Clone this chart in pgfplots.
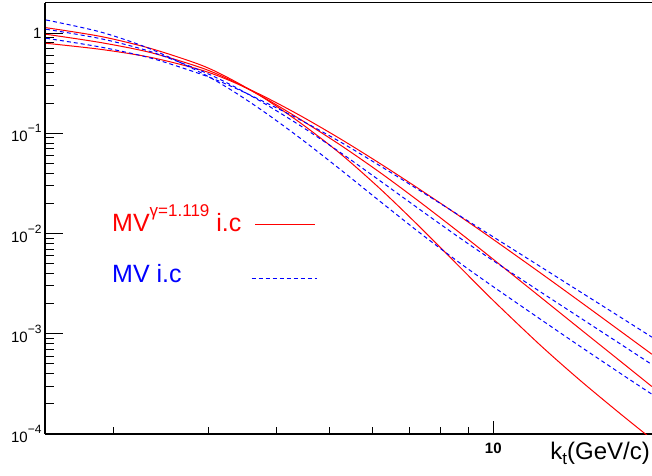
\documentclass[border=0pt]{standalone}
\usepackage{fontspec}
\setmainfont{Liberation Sans}
\usepackage{pgfplots}
\usepackage{pgfplotstable}
\pgfplotsset{compat=1.18}

\pgfplotstableread{
k      R1        R2        R3        B1        B2        B3
1.507  1.129     0.9705    0.7894    1.348     1.089     0.8855
1.900  0.923     0.8021    0.6863    1.021     0.877     0.7233
2.347  0.700     0.6372    0.5709    0.6910    0.6508    0.5619
2.900  0.4794    0.4517    0.4284    0.4027    0.4206    0.3890
3.292  0.3468    0.3382    0.3320    0.2719    0.3042    0.2953
3.784  0.2252    0.2278    0.2342    0.1648    0.2002    0.2069
4.425  0.1263    0.1368    0.1493    0.08863   0.1184    0.1353
5.241  0.06223   0.07599   0.08760   0.04329   0.06397   0.08161
6.204  0.02773   0.04031   0.04957   0.02076   0.03332   0.04703
7.346  0.01148   0.02043   0.02729   0.01005   0.01719   0.02660
8.698  0.004578  0.01007   0.01474   0.005042  0.00896   0.01491
10.00  0.002146  0.005528  0.00873   0.002946  0.005354  0.00925
12.20  0.0007704 0.002331  0.004055  0.001400  0.002627  0.004685
14.44  0.0003433 0.001117  0.002092  0.0007494 0.001446  0.002627
17.10  0.0001602 0.000536  0.001070  0.000405  0.0007956 0.001473
19.57  0.0000889 0.0002977 0.0006252 0.0002495 0.0004935 0.000926
}\data

\newcommand{\tl}[1]{10\raisebox{9pt}{\fontsize{12}{14}\selectfont −#1}}

\begin{document}
\begin{tikzpicture}
\begin{axis}[
  at={(0,0)}, anchor=south west,
  scale only axis, width=612pt, height=431.2pt,
  xmode=log, ymode=log,
  xmin=1.5, xmax=20, ymin=1e-4, ymax=2,
  axis x line=bottom, axis y line=left,
  axis line style={-, line width=1.1pt, black},
  tick align=inside,
  major tick length=18pt, minor tick length=9pt,
  tick style={line width=0.9pt, black},
  xtick style={/pgfplots/major tick length=13pt, /pgfplots/minor tick length=7pt},
  xtick={10}, xticklabels={\textbf{10}},
  minor xtick={2,3,4,5,6,7,8,9},
  ytick={1e-4,1e-3,1e-2,1e-1,1},
  yticklabels={\tl{4},\tl{3},\tl{2},\tl{1},1},
  minor ytick={2e-4,3e-4,4e-4,5e-4,6e-4,7e-4,8e-4,9e-4,
               2e-3,3e-3,4e-3,5e-3,6e-3,7e-3,8e-3,9e-3,
               2e-2,3e-2,4e-2,5e-2,6e-2,7e-2,8e-2,9e-2,
               2e-1,3e-1,4e-1,5e-1,6e-1,7e-1,8e-1,9e-1},
  ticklabel style={font=\fontsize{15}{18}\selectfont},
  xticklabel style={yshift=-5pt},
  xlabel={k\raisebox{-5pt}{\fontsize{17}{20}\selectfont t}(GeV/c)},
  xlabel style={at={(axis description cs:1,0)}, anchor=base east,
                xshift=-7pt, yshift=-25pt, inner sep=0pt,
                font=\fontsize{24}{28}\selectfont},
]
\addplot[red, line width=1pt, smooth] table[x=k, y=R1] {\data};
\addplot[red, line width=1pt, smooth] table[x=k, y=R2] {\data};
\addplot[red, line width=1pt, smooth] table[x=k, y=R3] {\data};
\addplot[blue, line width=1pt, smooth, dash pattern=on 4pt off 3pt] table[x=k, y=B1] {\data};
\addplot[blue, line width=1pt, smooth, dash pattern=on 4pt off 3pt] table[x=k, y=B2] {\data};
\addplot[blue, line width=1pt, smooth, dash pattern=on 4pt off 3pt] table[x=k, y=B3] {\data};
\end{axis}
\draw[line width=1.1pt] (0,431.2pt) -- (612pt,431.2pt);
\node[anchor=base west, inner sep=0pt, text=red, font=\fontsize{25}{30}\selectfont]
  at (67pt,202.3pt) {MV\raisebox{15pt}{\fontsize{17}{20}\selectfont γ=1.119} i.c};
\draw[red, line width=1pt] (210pt,209.7pt) -- (270pt,209.7pt);
\node[anchor=base west, inner sep=0pt, text=blue, font=\fontsize{25}{30}\selectfont]
  at (67pt,151.3pt) {MV i.c};
\draw[blue, line width=1pt, dash pattern=on 4pt off 3pt] (206.7pt,155.7pt) -- (271.7pt,155.7pt);
\pgfresetboundingbox
\path[use as bounding box] (-45pt,-41pt) rectangle (607pt,434pt);
\end{tikzpicture}
\end{document}
